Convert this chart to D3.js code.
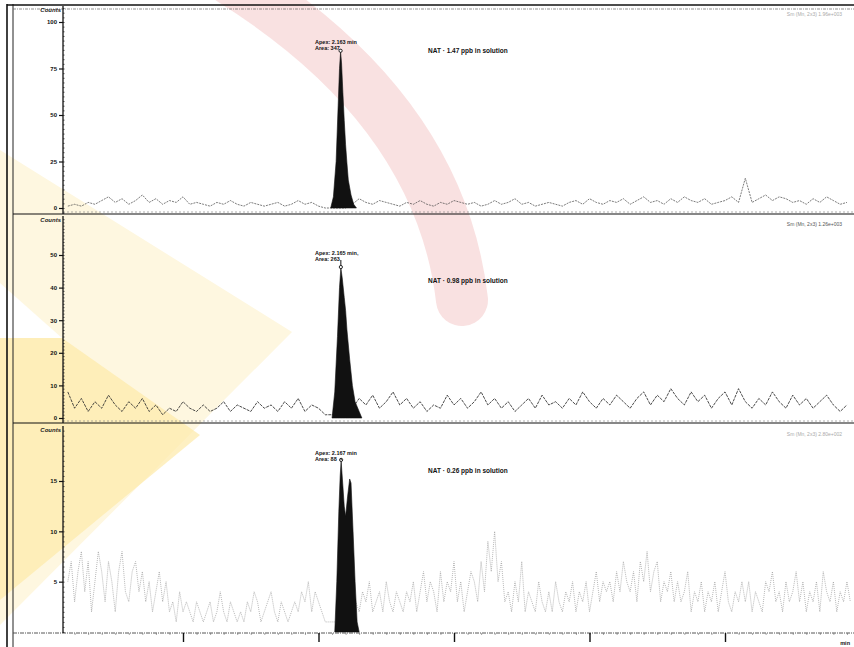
<!DOCTYPE html>
<html><head><meta charset="utf-8">
<script src="https://cdn.jsdelivr.net/npm/d3@7/dist/d3.min.js"></script>
<style>
html,body{margin:0;padding:0;background:#fff;}
svg{display:block;font-family:"Liberation Sans",Arial,sans-serif;}
</style></head>
<body>
<svg id="c" width="854" height="647"></svg>
<script>
// ---- data ----
const xTickValues = [1, 2, 3, 4, 5];           // minutes
const noiseStart = 0.15;
const noiseStep12 = 0.05;                      // panels 1-2 sampled every 0.05 min
const noiseStep3 = 0.025;                      // panel 3 sampled every 0.025 min

const noise1 = [1,2,1,3,2,4,6,3,5,2, 4,7,3,5,2,4,3,6,2,3, 2,1,3,2,4,2,1,3,2,1,
  2,3,1,2,4,2,3,1,0,0, 0,0,2,5,3,2,4,3,2,1, 3,2,4,2,1,3,2,4,3,2, 3,1,2,4,2,3,5,2,3,1,
  2,3,2,1,3,4,2,5,3,2, 4,3,5,2,4,6,3,4,2,5, 3,6,4,3,5,2,3,4,6,3, 16,3,5,7,4,6,5,3,4,2,
  5,3,6,4,2,3];
const noise2 = [8,3,6,2,5,3,7,4,2,5, 3,6,2,4,1,3,2,5,3,2, 4,2,3,5,2,4,3,2,5,3,
  4,2,5,3,6,2,4,3,1,1, 1,1,3,6,4,7,3,5,8,4, 6,3,5,2,4,3,7,4,6,3, 5,8,4,6,3,5,2,4,6,3,
  7,4,5,3,6,4,8,5,3,6, 4,7,5,3,6,8,4,7,5,9, 6,4,8,5,7,3,6,8,4,9, 5,3,6,4,8,5,3,7,4,6,
  3,5,7,4,2,4];
const noise3 = [
  5,7,3,6,8,4,7,2,5,8, 6,3,7,5,2,6,8,4,3,6,
  7,4,6,3,5,2,4,6,3,5, 2,3,1,4,2,3,2,1,3,2,
  1,2,3,1,2,4,2,1,3,2, 1,2,1,3,2,4,3,1,2,3,
  4,2,1,3,2,1,2,3,2,4, 3,5,2,4,3,2,1,1,1,1,
  1,1,1,1,2,3,2,4,3,5, 2,3,4,2,5,3,2,4,3,2,
  4,3,5,2,4,6,3,5,4,2, 6,3,5,4,7,3,5,2,4,6,
  5,3,7,4,9,6,10,5,7,3, 4,2,5,3,7,2,4,3,2,5,
  3,2,4,2,5,3,2,4,3,5, 2,4,3,5,2,4,6,3,5,4,
  5,3,6,4,7,5,4,6,3,7, 5,8,4,6,7,3,5,4,6,3,
  5,3,4,6,2,4,3,5,2,4, 3,5,2,4,6,3,2,4,3,5,
  3,5,2,4,3,2,5,4,6,3, 4,2,5,3,4,6,3,5,2,4,
  3,5,2,6,4,3,5,2,4,3,5,3];

const peak1T = [2.09,2.11,2.13,2.145,2.155,2.163,2.17,2.18,2.19,2.20,2.21,2.22,2.24,2.26,2.28];
const peak1V = [0,6,25,55,75,84,78,62,47,34,24,15,7,2,0];
const peak2T = [2.10,2.12,2.14,2.155,2.165,2.175,2.19,2.20,2.21,2.23,2.25,2.27,2.30,2.32];
const peak2V = [0,8,25,40,46,43,37,33,27,18,10,5,2,0];
const peak3T = [2.12,2.135,2.15,2.16,2.167,2.18,2.19,2.20,2.215,2.23,2.24,2.255,2.27,2.285,2.30];
const peak3V = [0,5,12,15.5,17,14.5,12.5,11.5,13.5,15.2,14.8,10,5,1,0];

const yTicks1 = [0,25,50,75,100];
const yTicks2 = [0,10,20,30,40,50];
const yTicks3 = [5,10,15];

const apexLabels = ["Apex: 2.163 min", "Apex: 2.165 min,", "Apex: 2.167 min"];
const areaLabels = ["Area: 347", "Area: 263", "Area: 88"];
const titles = ["NAT · 1.47 ppb in solution", "NAT · 0.98 ppb in solution", "NAT · 0.26 ppb in solution"];
const headers = ["Sm (Mn, 2x3)   1.96e+003", "Sm (Mn, 2x3)   1.26e+003", "Sm (Mn, 2x3)   2.80e+002"];

// ---- drawing ----
const svg = d3.select("#c");

// watermark (background decoration)
const wm = svg.append("g");
wm.append("polygon").attr("points","0,150 292,332 0,625").attr("fill","#fef7e0");
wm.append("polygon").attr("points","0,283 62,338 0,338").attr("fill","#ffffff");
wm.append("polygon").attr("points","0,338 62,338 200,435 0,600").attr("fill","#fde9a8").attr("opacity",0.7);
wm.append("path").attr("d","M 232,-20 Q 440,110 462,300")
  .attr("fill","none").attr("stroke","#efb4b4").attr("stroke-width",52)
  .attr("stroke-linecap","round").attr("opacity",0.4);

const x = d3.scaleLinear().domain([1,5]).range([183,725]);
const noiseT12 = d3.range(noise1.length).map(i => noiseStart + i*noiseStep12);
const noiseT3 = d3.range(noise3.length).map(i => noiseStart + i*noiseStep3);

const panels = [
  {top:6, bottom:214, y: d3.scaleLinear().domain([0,100]).range([208,22]), ticks:yTicks1, minor:2.5,
   noise:noise1, nT:noiseT12, pT:peak1T, pV:peak1V, lab:[42,48,51], nStroke:"#444", nDash:"2,1", nW:0.7},
  {top:216, bottom:423, y: d3.scaleLinear().domain([0,50]).range([418,255]), ticks:yTicks2, minor:1,
   noise:noise2, nT:noiseT12, pT:peak2T, pV:peak2V, lab:[253,259,281], nStroke:"#2a2a2a", nDash:"3,1", nW:0.85},
  {top:426, bottom:633, y: d3.scaleLinear().domain([0,15]).range([632,481]), ticks:yTicks3, minor:0.5,
   noise:noise3, nT:noiseT3, pT:peak3T, pV:peak3V, lab:[453,459,471], nStroke:"#9a9a9a", nDash:"1,1", nW:0.7}
];

// frame
svg.append("line").attr("x1",7).attr("x2",7).attr("y1",4).attr("y2",647).attr("stroke","#111").attr("stroke-width",1.6);
svg.append("line").attr("x1",13).attr("x2",13).attr("y1",4).attr("y2",647).attr("stroke","#222").attr("stroke-width",1);
svg.append("line").attr("x1",7).attr("x2",854).attr("y1",5).attr("y2",5).attr("stroke","#111").attr("stroke-width",1.6);
svg.append("line").attr("x1",13).attr("x2",854).attr("y1",9).attr("y2",9).attr("stroke","#666").attr("stroke-width",0.7).attr("stroke-dasharray","3,1,1,1");

panels.forEach((p, i) => {
  const g = svg.append("g");
  const y = p.y;
  g.append("line").attr("x1",13).attr("x2",854).attr("y1",p.bottom).attr("y2",p.bottom)
    .attr("stroke", i===2 ? "#444" : "#111").attr("stroke-width", i===2?0.9:1.1)
    .attr("stroke-dasharray", i===2 ? "4,1,1,1" : null);
  if (i < 2) {
    g.append("line").attr("x1",63).attr("x2",854).attr("y1",p.bottom-2).attr("y2",p.bottom-2)
      .attr("stroke","#777").attr("stroke-width",0.6).attr("stroke-dasharray","2,2");
  }
  g.append("line").attr("x1",63).attr("x2",63).attr("y1",p.top).attr("y2",p.bottom)
    .attr("stroke","#111").attr("stroke-width",1.3);
  const [d0,d1] = [y.invert(p.bottom), y.invert(p.top)];
  const minorVals = d3.range(Math.ceil(d0/p.minor)*p.minor, d1, p.minor).filter(v => v >= 0 || i===0);
  g.append("g").attr("transform","translate(63,0)")
    .call(d3.axisLeft(y).tickValues(minorVals).tickSize(2).tickFormat(""))
    .call(a => a.select(".domain").remove())
    .call(a => a.selectAll("line").attr("stroke","#222").attr("stroke-width",0.8).attr("x2",1.5));
  g.append("g").attr("transform","translate(63,0)")
    .call(d3.axisLeft(y).tickValues(p.ticks).tickSize(4).tickPadding(2).tickFormat(d3.format("d")))
    .call(a => a.select(".domain").remove())
    .call(a => a.selectAll("line").attr("stroke","#111").attr("stroke-width",1.2))
    .call(a => a.selectAll("text").attr("font-size","6px").attr("font-weight","bold").attr("fill","#111"));
  g.append("text").attr("x",61).attr("y",p.top+6).attr("text-anchor","end")
    .attr("font-size","6px").attr("font-weight","bold").attr("font-style","italic").attr("fill","#222").text("Counts");
  g.append("text").attr("x",842).attr("y",p.top+10).attr("text-anchor","end")
    .attr("font-size","5px").attr("fill", i===1 ? "#555" : "#aaa").text(headers[i]);

  const line = d3.line().x(d => x(d[0])).y(d => y(d[1]));
  const pts = p.nT.map((t,k) => [t, p.noise[k]]).filter(d => x(d[0]) >= 66 && x(d[0]) <= 852);
  g.append("path").datum(pts).attr("d", line).attr("fill","none")
    .attr("stroke", p.nStroke).attr("stroke-width", p.nW).attr("stroke-dasharray", p.nDash);

  const area = d3.area().x(d => x(d[0])).y0(y(0)).y1(d => y(d[1]));
  const pk = p.pT.map((t,k) => [t, p.pV[k]]);
  g.append("path").datum(pk).attr("d", area).attr("fill","#111").attr("stroke","#111").attr("stroke-width",0.6);
  const ai = d3.maxIndex(p.pV);
  g.append("circle").attr("cx", x(p.pT[ai])).attr("cy", y(p.pV[ai])-1).attr("r",1.6)
    .attr("fill","#fff").attr("stroke","#111").attr("stroke-width",0.9);
  g.append("line").attr("x1", x(p.pT[ai])).attr("x2", x(p.pT[ai]))
    .attr("y1", p.lab[1]+1).attr("y2", y(p.pV[ai])-2.5).attr("stroke","#111").attr("stroke-width",1);

  g.append("text").attr("x",315).attr("y",p.lab[0]+2).attr("font-size","5.5px").attr("font-weight","bold").attr("fill","#111").text(apexLabels[i]);
  g.append("text").attr("x",315).attr("y",p.lab[1]+2).attr("font-size","5.5px").attr("font-weight","bold").attr("fill","#111").text(areaLabels[i]);
  g.append("text").attr("x",428).attr("y",p.lab[2]+2).attr("font-size","6.5px").attr("font-weight","bold").attr("fill","#111").text(titles[i]);
});

// bottom x axis
svg.append("g").attr("transform","translate(0,633)")
  .call(d3.axisBottom(x).tickValues(d3.range(0.2,5.95,0.1)).tickSize(2).tickFormat(""))
  .call(a => a.select(".domain").remove())
  .call(a => a.selectAll("line").attr("stroke","#666").attr("stroke-width",0.6));
svg.append("g").attr("transform","translate(0,633)")
  .call(d3.axisBottom(x).tickValues(xTickValues).tickSize(9).tickFormat(""))
  .call(a => a.select(".domain").remove())
  .call(a => a.selectAll("line").attr("stroke","#111").attr("stroke-width",1.4));
svg.append("text").attr("x",850).attr("y",645).attr("text-anchor","end")
  .attr("font-size","5.5px").attr("font-weight","bold").attr("fill","#111").text("min");
</script>
</body></html>
